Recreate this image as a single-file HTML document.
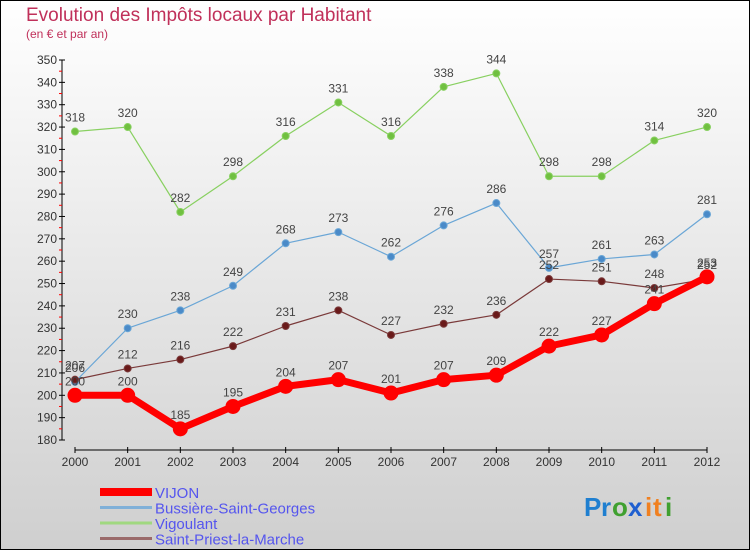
<!DOCTYPE html>
<html><head><meta charset="utf-8"><style>
html,body{margin:0;padding:0}
body{width:750px;height:550px;overflow:hidden;font-family:"Liberation Sans",sans-serif}
</style></head><body>
<svg id="chart" width="750" height="550" xmlns="http://www.w3.org/2000/svg">
<defs><linearGradient id="bg" x1="0" y1="0" x2="0" y2="1"><stop offset="0" stop-color="#ffffff"/><stop offset="1" stop-color="#cfcfcf"/></linearGradient></defs>
<rect x="0.5" y="0.5" width="749" height="549" fill="url(#bg)" stroke="#000"/>
<text x="26" y="21" font-size="19" fill="#c0305a">Evolution des Impôts locaux par Habitant</text>
<text x="26" y="38" font-size="12" fill="#c0305a">(en € et par an)</text>
<g id="axes"></g><g id="series"></g><g id="legend"></g>
<g font-size="26" font-weight="bold">
<text x="584" y="516" fill="#1f7fd0">P</text><text x="601" y="516" fill="#1f7fd0">r</text><text x="612" y="516" fill="#40a030">o</text><text x="628" y="516" fill="#1f5fd0">x</text><text x="645" y="516" fill="#f08020">i</text><text x="653" y="516" fill="#f08020">t</text><text x="665" y="516" fill="#40a030">i</text>
</g>
</svg>
<script>
const years=[2000,2001,2002,2003,2004,2005,2006,2007,2008,2009,2010,2011,2012];
const vijon=[200,200,185,195,204,207,201,207,209,222,227,241,253];
const bussiere=[206,230,238,249,268,273,262,276,286,257,261,263,281];
const vigoulant=[318,320,282,298,316,331,316,338,344,298,298,314,320];
const stpriest=[207,212,216,222,231,238,227,232,236,252,251,248,252];
const yTicks=[180,190,200,210,220,230,240,250,260,270,280,290,300,310,320,330,340,350];
const seriesNames=["VIJON","Bussière-Saint-Georges","Vigoulant","Saint-Priest-la-Marche"];
const NS="http://www.w3.org/2000/svg";
const x=i=>75+i*(707-75)/(years.length-1);
const y=v=>440-(v-180)*(380/170);
function mk(tag,attrs,parent,text){const e=document.createElementNS(NS,tag);for(const k in attrs)e.setAttribute(k,attrs[k]);if(text!==undefined)e.textContent=text;parent.appendChild(e);return e;}
const axes=document.getElementById('axes');
const ya=mk('line',{x1:62,y1:60,x2:62,y2:440,stroke:'#000'},axes);


yTicks.forEach(t=>{
 mk('line',{x1:59,y1:y(t),x2:65,y2:y(t),stroke:'#000'},axes);
 if(t<350) mk('line',{x1:59,y1:y(t+5),x2:62,y2:y(t+5),stroke:'#f00'},axes);
 const l=mk('text',{x:57,y:y(t)+4,'font-size':12,'text-anchor':'end',fill:'#333'},axes,t);
 
 
});
const xa=mk('line',{x1:75,y1:450,x2:707,y2:450,stroke:'#000'},axes);


years.forEach((yr,i)=>{
 mk('line',{x1:x(i),y1:447,x2:x(i),y2:453,stroke:'#000'},axes);
 const l=mk('text',{x:x(i),y:466,'font-size':12,'text-anchor':'middle',fill:'#333'},axes,yr);
 
 
});
const sg=document.getElementById('series');
function draw(vals,color,dot,w,r,name){
 const g=mk('g',{},sg);
 
 
 mk('polyline',{points:vals.map((v,i)=>x(i)+','+y(v)).join(' '),fill:'none',stroke:color,'stroke-width':w,'stroke-linejoin':'round'},g);
 vals.forEach((v,i)=>{
  const c=mk('circle',{cx:x(i),cy:y(v),r:r,fill:dot,stroke:color},g);
  
  
  mk('text',{x:x(i),y:y(v)-10,'font-size':12,'text-anchor':'middle',fill:'#444'},g,v);
 });
}
draw(vigoulant,'#88d060','#70c040',1.2,3.5,'vigoulant-series');
draw(bussiere,'#6aa6d6','#4a8ac8',1.2,3.5,'bussiere-series');
draw(stpriest,'#7a3a3a','#6a1a1a',1.2,3.5,'stpriest-series');
draw(vijon,'#f00','#f00',7,7,'vijon-series');
const lg=document.getElementById('legend');
const lc=['#f00','#80b0d8','#a0d880','#9a6a6a'],lw=[8,3,3,3];
seriesNames.forEach((n,i)=>{
 const g=mk('g',{},lg);
 
 
 mk('line',{x1:100,y1:492+i*15.5,x2:152,y2:492+i*15.5,stroke:lc[i],'stroke-width':lw[i]},g);
 mk('text',{x:155,y:498+i*15.5,'font-size':15,fill:'#5555ee'},g,n);
});
</script>
</body></html>
